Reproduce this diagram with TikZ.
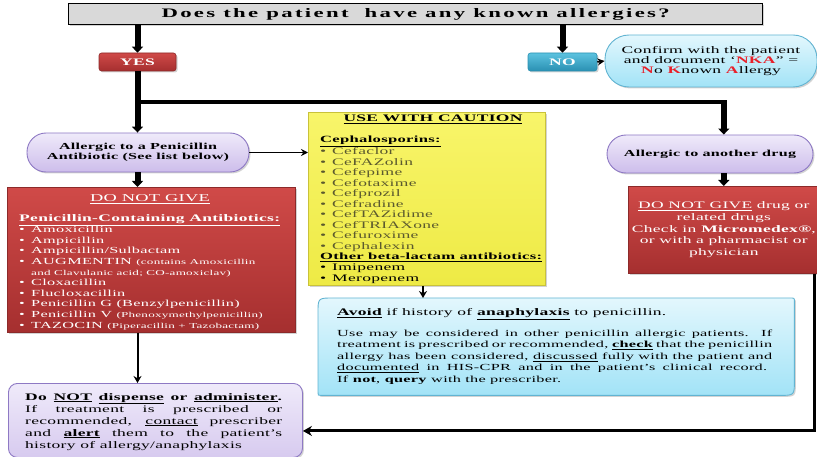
\documentclass[tikz,border=0pt]{standalone}
\usepackage{fontspec}
\setmainfont{Liberation Serif}[FakeStretch=1.75,LetterSpace=3]
\newfontfamily\titlefont{Liberation Serif}[FakeStretch=1.75,LetterSpace=18]
\usetikzlibrary{arrows.meta,shadows,calc}
\definecolor{redtop}{HTML}{D04A48}
\definecolor{redbot}{HTML}{A52F2F}
\definecolor{redline}{HTML}{8C2A2A}
\definecolor{yeltop}{HTML}{F8F56A}
\definecolor{yelbot}{HTML}{EEEA45}
\definecolor{yelline}{HTML}{C9C23A}
\definecolor{purtop}{HTML}{EFEAFA}
\definecolor{purbot}{HTML}{CDBDEB}
\definecolor{purline}{HTML}{8E79C4}
\definecolor{blutop}{HTML}{E3F7FD}
\definecolor{blubot}{HTML}{A2E3F7}
\definecolor{bluline}{HTML}{62B4D2}
\definecolor{notop}{HTML}{5CC3E0}
\definecolor{nobot}{HTML}{2A90B2}
\definecolor{olivetxt}{HTML}{5C5A2E}
\definecolor{nkared}{HTML}{E8202A}
\definecolor{titlegray}{HTML}{D9D9D9}
\newcommand\itm{\makebox[12pt][l]{\textbullet}}
\tikzset{
  shad/.style={drop shadow={opacity=0.35,shadow xshift=1.5pt,shadow yshift=-1.5pt}},
  thickarrow/.style={line width=6pt,-{Triangle[width=11pt,length=6pt]}},
  branchline/.style={line width=3.5pt},
  thinarrow/.style={line width=1.5pt,-{Stealth[length=7pt,width=7pt]}},
  linkarrow/.style={line width=2pt,-{Stealth[length=7pt,width=8pt]}},
  titlebox/.style={draw=black,line width=1.3pt,fill=titlegray,shad,inner sep=0pt},
  yesbox/.style={rounded corners=2.5pt,top color=redtop,bottom color=redbot,draw=redline,line width=0.6pt,shad,
    minimum width=77pt,minimum height=18pt,inner sep=0pt,text=white,font=\bfseries\fontsize{10}{10}\selectfont},
  nobox/.style={rounded corners=2.5pt,top color=notop,bottom color=nobot,draw=nobot,line width=0.6pt,shad,
    minimum width=69pt,minimum height=18pt,inner sep=0pt,text=white,font=\bfseries\fontsize{10}{10}\selectfont},
  bubble/.style={rounded corners=24pt,top color=blutop,bottom color=blubot,draw=bluline,line width=0.9pt,shad,
    inner sep=0pt,align=center,font=\fontsize{10}{9.7}\selectfont},
  purell/.style={rounded corners=19pt,top color=purtop,bottom color=purbot,draw=purline,line width=0.9pt,shad,
    inner sep=0pt,align=center,font=\bfseries\fontsize{9.2}{10.5}\selectfont},
  redbox/.style={top color=redtop,bottom color=redbot,draw=redline,line width=0.6pt,shad,inner sep=0pt},
  yelbox/.style={top color=yeltop,bottom color=yelbot,draw=yelline,line width=0.8pt,shad,inner sep=0pt},
  botbox/.style={rounded corners=9pt,top color=purtop,bottom color=purbot!80!white,draw=purline,line width=0.9pt,shad,inner sep=0pt},
  bluebox/.style={top color=blutop,bottom color=blubot,draw=bluline,line width=0.9pt,shad},
}
\begin{document}
\begin{tikzpicture}[x=1pt,y=-1pt]
\useasboundingbox (0,0) rectangle (817,457);
% boxes
\node[titlebox,anchor=north west,minimum width=694pt,minimum height=21pt] (title) at (68,3)
  {\titlefont\bfseries\fontsize{13}{14}\selectfont Does the patient \ have any known allergies?};
\node[yesbox] (yes) at (137.5,62) {YES};
\node[nobox] (no) at (562.5,62) {NO};
\node[bubble,minimum width=212pt,minimum height=52pt] (nka) at (711,61)
  {Confirm with the patient\\and document `\textcolor{nkared}{\textbf{NKA}}'' =\\
   \textcolor{nkared}{\textbf{N}}o \textcolor{nkared}{\textbf{K}}nown \textcolor{nkared}{\textbf{A}}llergy};
\node[purell,minimum width=222pt,minimum height=39pt] (pen) at (138,152.5)
  {Allergic to a Penicillin\\Antibiotic (See list below)};
\node[purell,minimum width=206pt,minimum height=38pt] (oth) at (710,154) {Allergic to another drug};
\node[redbox,anchor=north west,minimum width=288pt,minimum height=145pt] (redL) at (7,187) {};
\node[redbox,anchor=north west,minimum width=191pt,minimum height=87pt,align=center,text=white,
  font=\fontsize{10}{11.8}\selectfont] (redR) at (628,186)
  {\underline{DO NOT GIVE} drug or\\related drugs\\Check in \textbf{Micromedex®},\\or with a pharmacist or\\physician};
\node[yelbox,anchor=north west,minimum width=237pt,minimum height=173pt] (yel) at (308,112) {};
\node[anchor=north west,minimum width=476pt,minimum height=97pt,inner sep=0pt] (blue) at (318,298) {};
\draw[bluebox] ([xshift=15pt]blue.north west) -- ([xshift=-4pt]blue.north east)
  .. controls (blue.north east) .. ([yshift=-4pt]blue.north east)
  -- ([yshift=15pt]blue.south east) .. controls (blue.south east) .. ([xshift=-15pt]blue.south east)
  -- ([xshift=3pt]blue.south west) .. controls (blue.south west) .. ([yshift=3pt]blue.south west)
  -- ([yshift=-15pt]blue.north west) .. controls (blue.north west) .. ([xshift=15pt]blue.north west) -- cycle;
\node[botbox,anchor=north west,minimum width=294pt,minimum height=74pt] (bot) at (8,383) {};
% texts in left red box
\node[text=white,font=\fontsize{10.5}{12}\selectfont] (lhd) at (150,199) {\underline{DO NOT GIVE}};
\node[anchor=north west,inner sep=0pt,align=left,text=white,font=\fontsize{9.3}{10.6}\selectfont] (llist) at (19,214)
  {\textbf{\fontsize{10}{10.6}\selectfont\underline{Penicillin-Containing Antibiotics:}}\\
   \itm Amoxicillin\\
   \itm Ampicillin\\
   \itm Ampicillin/Sulbactam\\
   \itm AUGMENTIN {\fontsize{7.5}{8}\selectfont(contains Amoxicillin}\\
   \hspace*{12pt}{\fontsize{7.5}{8}\selectfont and Clavulanic acid; CO-amoxiclav)}\\
   \itm Cloxacillin\\
   \itm Flucloxacillin\\
   \itm Penicillin G (Benzylpenicillin)\\
   \itm Penicillin V {\fontsize{7.5}{8}\selectfont(Phenoxymethylpenicillin)}\\
   \itm TAZOCIN {\fontsize{7.5}{8}\selectfont(Piperacillin + Tazobactam)}};
% texts in yellow box
\node[font=\bfseries\fontsize{10}{12}\selectfont] (yhd) at (433,119) {\underline{USE WITH CAUTION}};
\node[anchor=north west,inner sep=0pt,align=left,font=\fontsize{10}{10.5}\selectfont] (ylist) at (320,136)
  {\textbf{\fontsize{9.5}{10.5}\selectfont\underline{Cephalosporins:}}\\
   \color{olivetxt}\itm Cefaclor\\
   \color{olivetxt}\itm CeFAZolin\\
   \color{olivetxt}\itm Cefepime\\
   \color{olivetxt}\itm Cefotaxime\\
   \color{olivetxt}\itm Cefprozil\\
   \color{olivetxt}\itm Cefradine\\
   \color{olivetxt}\itm CefTAZidime\\
   \color{olivetxt}\itm CefTRIAXone\\
   \color{olivetxt}\itm Cefuroxime\\
   \color{olivetxt}\itm Cephalexin\\
   \textbf{\fontsize{9.5}{10.5}\selectfont\underline{Other beta-lactam antibiotics:}}\\
   \itm Imipenem\\[1pt]
   \itm Meropenem};
% texts in blue box
\node[anchor=north west,inner sep=0pt,align=left,font=\fontsize{9.3}{11.5}\selectfont] (btxt) at (337,308)
  {{\fontsize{10}{11.5}\selectfont\textbf{\underline{Avoid}} if history of \textbf{\underline{anaphylaxis}} to penicillin.}\\[9.5pt]
   \makebox[435pt][s]{Use may be considered in other penicillin allergic patients.\ \ If}\\
   \makebox[435pt][s]{treatment is prescribed or recommended, \textbf{\underline{check}} that the penicillin}\\
   \makebox[435pt][s]{allergy has been considered, \underline{discussed} fully with the patient and}\\
   \makebox[430pt][s]{\underline{documented} in HIS-CPR and in the patient's clinical record.}\\
   If \textbf{not}, \textbf{query} with the prescriber.};
% texts in bottom box
\node[anchor=north west,inner sep=0pt,align=left,font=\fontsize{10}{12}\selectfont] (btm) at (25,393)
  {\makebox[257pt][s]{\textbf{Do \underline{NOT} \underline{dispense} or \underline{administer}.}}\\
   \makebox[257pt][s]{If treatment is prescribed or}\\
   \makebox[257pt][s]{recommended, \underline{contact} prescriber}\\
   \makebox[257pt][s]{and \textbf{\underline{alert}} them to the patient's}\\
   history of allergy/anaphylaxis};
% connectors
\draw[thickarrow] (title.south -| yes.north) -- (yes.north);
\draw[thickarrow] (title.south -| no.north) -- (no.north);
\draw[thinarrow] (no.east) -- (nka.west);
\draw[thickarrow] (yes.south) -- (yes.south |- pen.north);
\coordinate (br) at ($(yes.south)!0.5!(yes.south |- pen.north)$);
\coordinate (brc) at ([yshift=1.75pt]br -| redR.north);
\draw[branchline] ([xshift=-1pt]br) -- ([xshift=3pt]br -| redR.north);
\draw[thickarrow] (brc) -- (redR.north |- oth.north);
\draw[thickarrow] (pen.south -| yes) -- (redL.north -| yes);
\draw[thinarrow] (pen.east) -- (pen.east -| yel.west);
\draw[linkarrow] (redL.south -| yes) -- (bot.north -| yes);
\draw[linkarrow] (yel.south -| 423,0) -- (blue.north -| 423,0);
\draw[thickarrow] (oth.south -| redR.north) -- (redR.north);
\draw[line width=3pt,-{Stealth[length=9pt,width=10pt]}] ([xshift=-5pt]redR.south east) |- ([yshift=-10.5pt]bot.east);
\end{tikzpicture}
\end{document}
